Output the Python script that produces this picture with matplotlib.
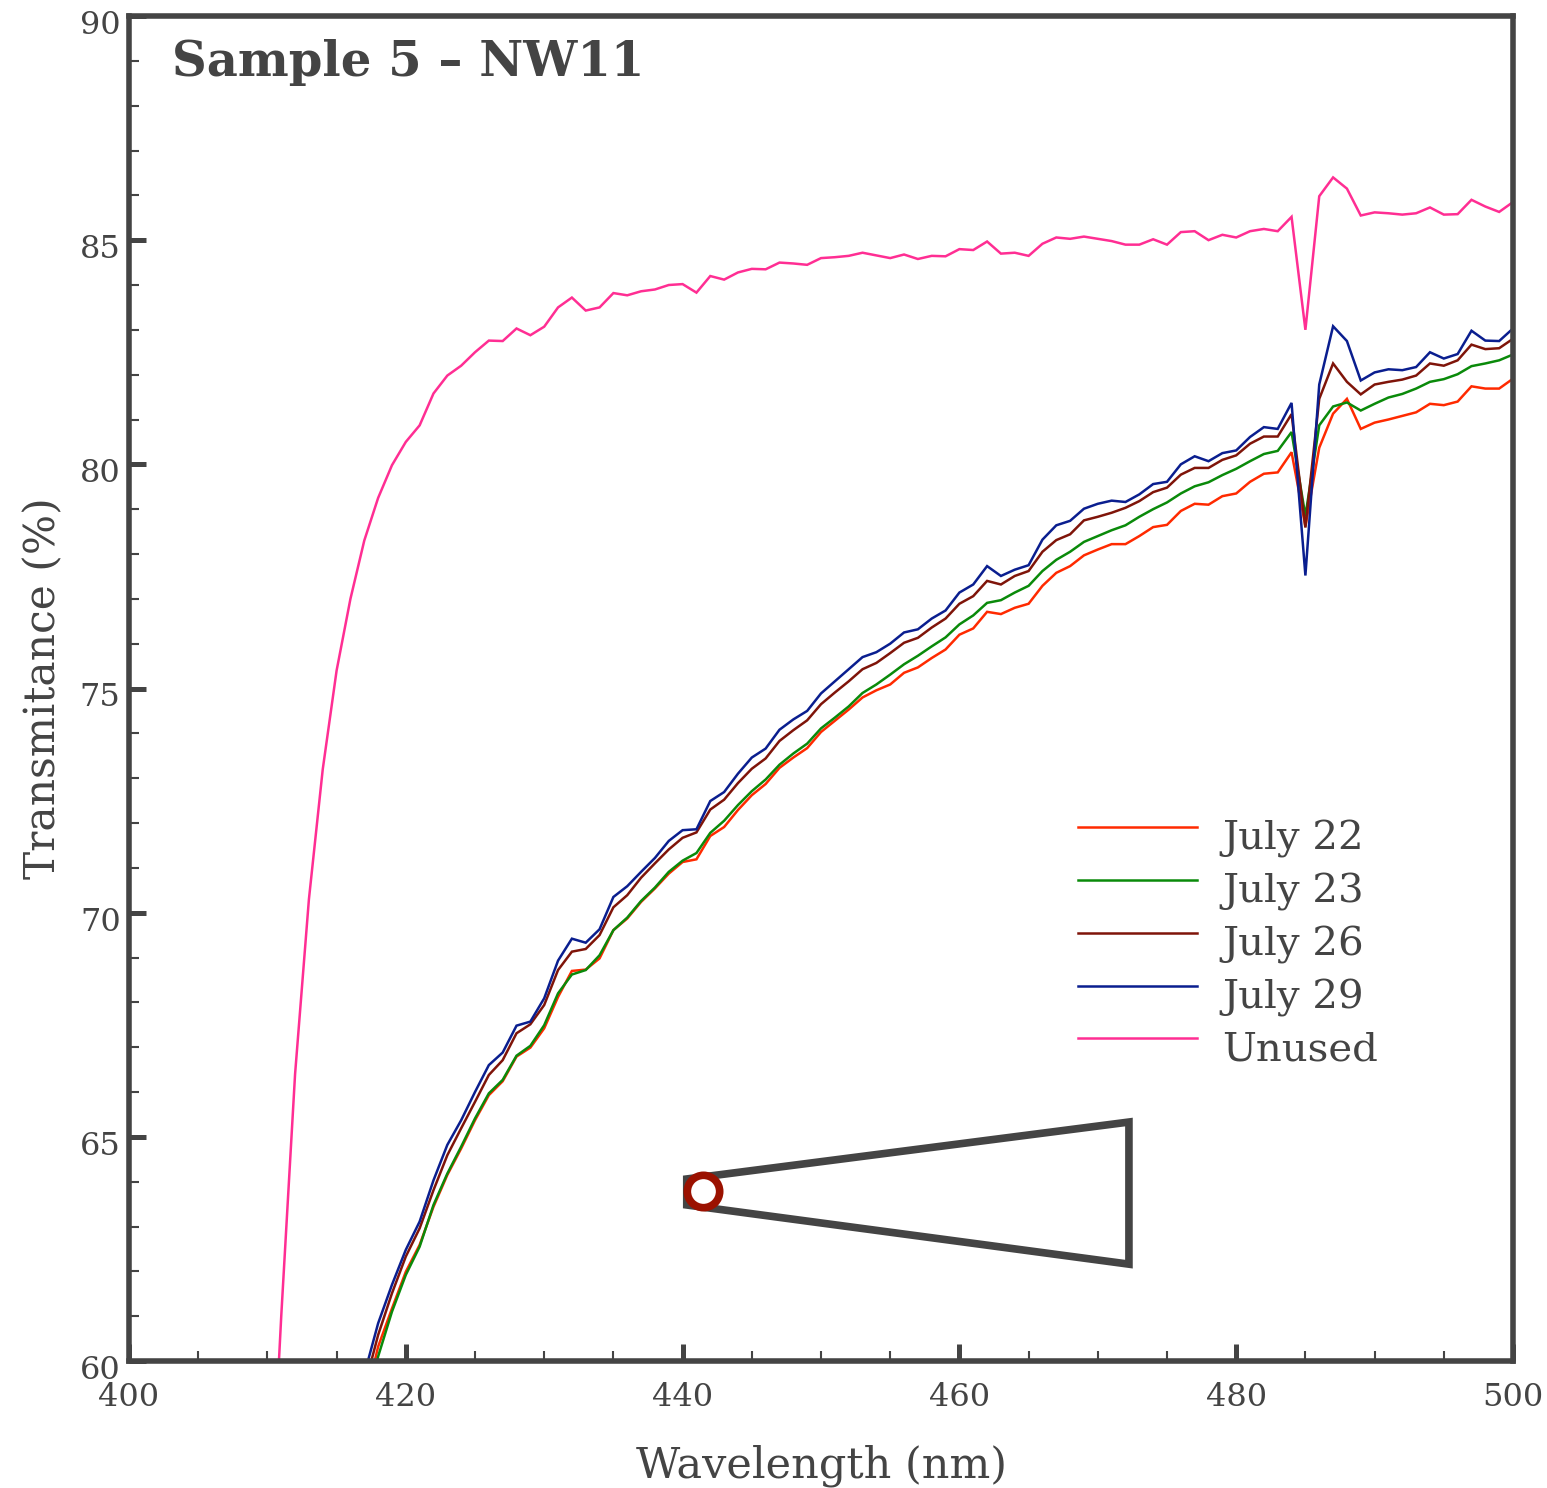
import numpy as np
import matplotlib
matplotlib.use("Agg")
import matplotlib.pyplot as plt
from matplotlib.legend_handler import HandlerLine2D
from matplotlib.lines import Line2D
from matplotlib.ticker import MultipleLocator
from matplotlib.transforms import ScaledTranslation

FONT = "DejaVu Serif"
INK = "#444444"

wavelength_main = list(range(417, 501))
wavelength_unused = list(range(410, 501))

july_22 = [59.0, 60.32, 61.17, 61.99, 62.59, 63.44, 64.15, 64.74, 65.37, 65.93, 66.24, 66.79, 66.99, 67.42, 68.12, 68.7, 68.73, 68.98, 69.61, 69.87,
           70.24, 70.54, 70.87, 71.13, 71.19, 71.71, 71.91, 72.29, 72.62, 72.87, 73.23, 73.46, 73.67, 74.03, 74.28, 74.53, 74.8, 74.96, 75.09, 75.35, 75.47, 75.68, 75.87, 76.2, 76.34, 76.71, 76.66, 76.8, 76.89, 77.29, 77.58, 77.73, 77.97,
           78.1, 78.22, 78.22, 78.4, 78.6, 78.65, 78.96, 79.12, 79.1, 79.29, 79.35, 79.61, 79.79, 79.82, 80.27, 78.62, 80.37, 81.13, 81.46, 80.79, 80.93, 81.0, 81.08, 81.16, 81.35, 81.32, 81.4, 81.74, 81.69, 81.69, 81.91]
july_23 = [58.9, 60.1, 61.1, 61.92, 62.55, 63.48, 64.18, 64.78, 65.41, 65.97, 66.27, 66.81, 67.03, 67.49, 68.2, 68.62, 68.72, 69.05, 69.61, 69.89,
           70.26, 70.56, 70.91, 71.16, 71.33, 71.78, 72.05, 72.4, 72.71, 72.97, 73.3, 73.55, 73.77, 74.11, 74.35, 74.6, 74.9, 75.09, 75.31, 75.54, 75.73, 75.94, 76.14, 76.43, 76.63, 76.91, 76.97, 77.14, 77.29, 77.62, 77.87, 78.05, 78.27,
           78.4, 78.53, 78.64, 78.83, 79.0, 79.15, 79.35, 79.51, 79.6, 79.76, 79.9, 80.07, 80.23, 80.3, 80.72, 78.85, 80.87, 81.29, 81.38, 81.2, 81.35, 81.49, 81.57, 81.69, 81.84, 81.9, 82.01, 82.19, 82.25, 82.32, 82.45]
july_26 = [59.4, 60.58, 61.51, 62.33, 62.96, 63.81, 64.59, 65.19, 65.78, 66.38, 66.71, 67.31, 67.51, 67.94, 68.72, 69.13, 69.19, 69.5, 70.12, 70.39,
           70.78, 71.1, 71.41, 71.67, 71.79, 72.3, 72.52, 72.89, 73.21, 73.44, 73.83, 74.07, 74.29, 74.65, 74.91, 75.16, 75.43, 75.57, 75.79, 76.02, 76.13, 76.36, 76.56, 76.89, 77.06, 77.4, 77.32, 77.51, 77.62, 78.05, 78.31, 78.44, 78.75,
           78.83, 78.92, 79.03, 79.18, 79.38, 79.48, 79.77, 79.92, 79.92, 80.1, 80.2, 80.46, 80.62, 80.62, 81.12, 78.59, 81.46, 82.25, 81.84, 81.56, 81.78, 81.84, 81.89, 81.98, 82.25, 82.2, 82.32, 82.67, 82.57, 82.59, 82.8]
july_29 = [59.7, 60.84, 61.7, 62.48, 63.11, 64.03, 64.82, 65.37, 66.0, 66.6, 66.88, 67.48, 67.57, 68.09, 68.93, 69.42, 69.33, 69.63, 70.35, 70.59,
           70.91, 71.22, 71.6, 71.84, 71.86, 72.49, 72.69, 73.1, 73.46, 73.66, 74.08, 74.31, 74.5, 74.89, 75.16, 75.43, 75.7, 75.81, 76.0, 76.25, 76.32, 76.56, 76.74, 77.14, 77.32, 77.73, 77.51, 77.65, 77.75, 78.32, 78.64, 78.74, 79.01,
           79.12, 79.19, 79.16, 79.33, 79.56, 79.61, 80.0, 80.18, 80.07, 80.25, 80.31, 80.61, 80.83, 80.79, 81.37, 77.52, 81.78, 83.08, 82.75, 81.87, 82.05, 82.12, 82.1, 82.17, 82.5, 82.36, 82.46, 82.98, 82.76, 82.75, 83.03]
unused = [55.0, 61.0, 66.4, 70.3, 73.2, 75.4, 77.0, 78.3, 79.25, 79.98, 80.5, 80.87, 81.58, 81.98, 82.2, 82.5, 82.76, 82.75, 83.03, 82.88, 83.07,
          83.5, 83.72, 83.43, 83.5, 83.82, 83.77, 83.86, 83.9, 84.0, 84.02, 83.83, 84.2, 84.12, 84.28, 84.36, 84.35, 84.5, 84.48, 84.45, 84.6,
          84.62, 84.65, 84.72, 84.66, 84.6, 84.68, 84.58, 84.65, 84.64, 84.8, 84.78, 84.97, 84.7, 84.72, 84.65, 84.92, 85.06, 85.03, 85.08, 85.03,
          84.98, 84.9, 84.9, 85.02, 84.9, 85.18, 85.2, 85.0, 85.12, 85.06, 85.2, 85.25, 85.2, 85.52, 83.0, 85.98, 86.4, 86.15, 85.55, 85.62,
          85.6, 85.57, 85.6, 85.73, 85.57, 85.58, 85.9, 85.75, 85.63, 85.85]

series_labels = ["July 22", "July 23", "July 26", "July 29", "Unused"]
series_colors = ["#FF2A00", "#0A8A0A", "#7F1409", "#0A1E8F", "#FF2E93"]

# sample wedge outline and the measuring spot, in data units
wedge_x = [440.3, 472.25, 472.25, 440.3]
wedge_y = [64.06, 65.33, 62.16, 63.48]
spot_x = [441.5]
spot_y = [63.8]


class RaisedLine(HandlerLine2D):
    """Legend line drawn a little above the middle of its text."""

    def create_artists(self, *args, **kwargs):
        artists = super().create_artists(*args, **kwargs)
        for a in artists:
            a.set_ydata(np.asarray(a.get_ydata()) + 5.8)
        return artists


W, H = 1547, 1488
fig = plt.figure(figsize=(W / 100, H / 100), dpi=100, facecolor="white")
ax = fig.add_axes([129 / W, 1 - 1361 / H, (1513 - 129) / W, (1361 - 16) / H])

for lam, vals, lab, col in zip(
    [wavelength_main] * 4 + [wavelength_unused],
    [july_22, july_23, july_26, july_29, unused],
    series_labels, series_colors,
):
    ax.plot(lam, vals, color=col, lw=1.8, label=lab, solid_joinstyle="miter")

ax.fill(wedge_x, wedge_y, facecolor="none", edgecolor=INK, lw=5.5, joinstyle="miter", zorder=5)
ax.plot(spot_x, spot_y, "o", ms=23.3, mfc="white", mec="#9B1100", mew=5.5, zorder=6)

ax.set_xlim(400, 500)
ax.set_ylim(60, 90)
ax.xaxis.set_major_locator(MultipleLocator(20))
ax.xaxis.set_minor_locator(MultipleLocator(5))
ax.yaxis.set_major_locator(MultipleLocator(5))
ax.yaxis.set_minor_locator(MultipleLocator(1))
ax.tick_params(which="major", direction="in", length=12, width=3.6, color=INK,
               labelcolor=INK, labelsize=23, labelfontfamily=FONT)
ax.tick_params(which="minor", direction="in", length=7, width=1.5, color=INK)
ax.tick_params(axis="x", which="major", pad=15)
ax.tick_params(axis="y", which="major", pad=6)
label_shift = ScaledTranslation(0, -6 / 100, fig.dpi_scale_trans)
for lab in ax.get_yticklabels():
    lab.set_transform(lab.get_transform() + label_shift)
for s in ax.spines.values():
    s.set_linewidth(4)
    s.set_color(INK)
    s.set_zorder(10)

ax.set_xlabel("Wavelength (nm)", family=FONT, fontsize=31, color=INK, labelpad=23)
ax.set_ylabel("Transmitance (%)", family=FONT, fontsize=30.5, color=INK, labelpad=11.5)
fig.text(172 / W, 1 - 63 / H, "Sample 5 – NW11", family=FONT, fontweight="bold",
         fontsize=34.7, color=INK, va="center", ha="left", zorder=20)

em = 29 * 100 / 72
leg = ax.legend(
    handler_map={Line2D: RaisedLine()},
    loc="upper left", bbox_to_anchor=((1078 - 129) / (1513 - 129), 1 - (820 - 16) / (1361 - 16)),
    frameon=False, handlelength=119 / em, handletextpad=25 / em,
    labelspacing=0.37, borderpad=0, borderaxespad=0,
    prop={"family": FONT, "size": 29},
)
for t in leg.get_texts():
    t.set_color(INK)

fig.savefig("out.png", dpi=100)
